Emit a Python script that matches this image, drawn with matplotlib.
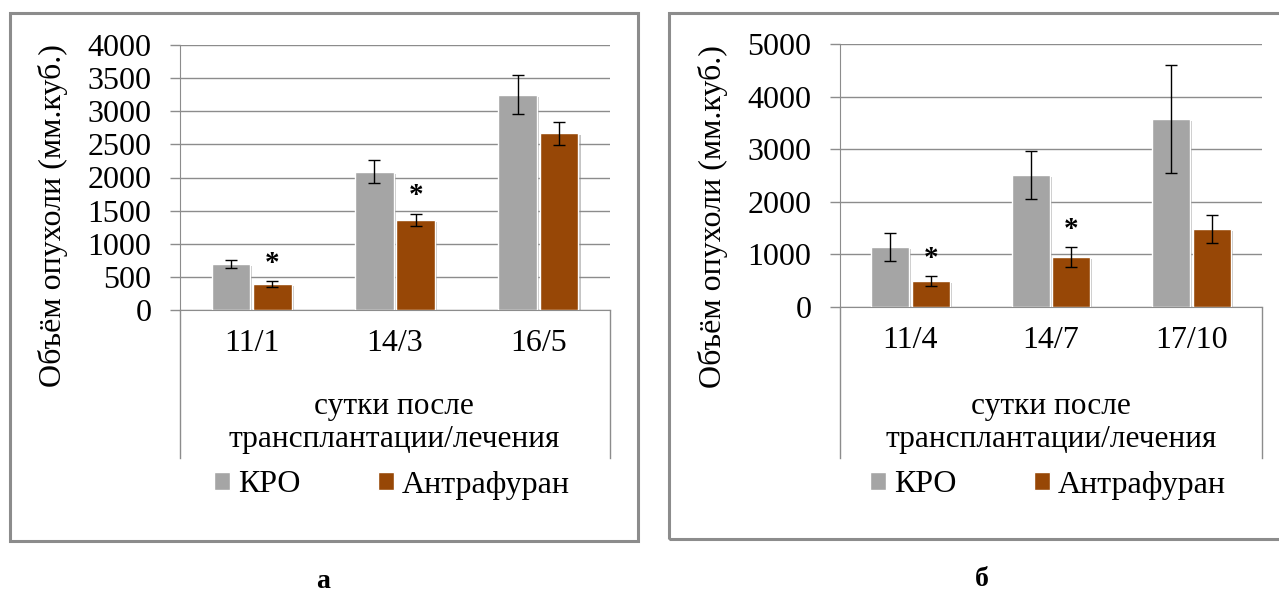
import matplotlib
matplotlib.use("Agg")
import matplotlib.pyplot as plt
import matplotlib.patheffects as pe
from matplotlib.patches import Patch, Rectangle

# ---- data ----
series_names = ["КРО", "Антрафуран"]

days_a = ["11/1", "14/3", "16/5"]
kro_a = [700, 2085, 3250]
kro_err_a = [60, 175, 290]
antr_a = [395, 1365, 2670]
antr_err_a = [45, 90, 175]
sig_a = [True, True, False]

days_b = ["11/4", "14/7", "17/10"]
kro_b = [1140, 2510, 3570]
kro_err_b = [270, 460, 1030]
antr_b = [495, 945, 1480]
antr_err_b = [100, 190, 265]
sig_b = [True, True, False]

ylabel = "Объём опухоли (мм.куб.)"
xlabel = "сутки после\nтрансплантации/лечения"

GREY = "#a5a5a5"
BROWN = "#974706"
LINE = "#8c8c8c"

plt.rcParams["font.family"] = ["Liberation Serif", "DejaVu Serif"]
FS = 23

W, H = 1279, 592
fig = plt.figure(figsize=(W / 100, H / 100), dpi=100)


def fx(x):
    return x / W


def fy(y):
    return 1 - y / H


def panel(box, ax_px, days, kro, kro_err, antr, antr_err, sig, ymax, step,
          label, label_xy, ylab_xy, title_xy, legend_xy):
    bx0, by0, bx1, by1 = box
    fig.patches.append(Rectangle((fx(bx0), fy(by1)), (bx1 - bx0) / W, (by1 - by0) / H,
                                 transform=fig.transFigure, fill=False,
                                 ec=LINE, lw=2.2))
    x0, y0, x1, y1 = ax_px
    ax = fig.add_axes([fx(x0), fy(y1), (x1 - x0) / W, (y1 - y0) / H])

    xs = range(len(days))
    w = 0.27
    shadow = [pe.SimplePatchShadow(offset=(1.5, -1.5), shadow_rgbFace="#808080", alpha=0.45),
              pe.Normal()]
    b1 = ax.bar([x - w / 2 - 0.01 for x in xs], kro, w, color=GREY,
                edgecolor="white", lw=1, zorder=3)
    b2 = ax.bar([x + w / 2 + 0.01 for x in xs], antr, w, color=BROWN,
                edgecolor="white", lw=1, zorder=3)
    for b in list(b1) + list(b2):
        b.set_path_effects(shadow)
    ax.errorbar([x - w / 2 - 0.01 for x in xs], kro, yerr=kro_err, fmt="none",
                ecolor="black", elinewidth=1, capsize=4.5, capthick=1, zorder=4)
    ax.errorbar([x + w / 2 + 0.01 for x in xs], antr, yerr=antr_err, fmt="none",
                ecolor="black", elinewidth=1, capsize=4.5, capthick=1, zorder=4)
    for x, v, e, s in zip(xs, antr, antr_err, sig):
        if s:
            ax.annotate("*", (x + w / 2 + 0.01, v + e), xytext=(0, 3),
                        textcoords="offset points", ha="center", va="bottom",
                        fontsize=21, fontweight="bold", zorder=5)

    ax.set_xlim(-0.5, len(days) - 0.5)
    ax.set_ylim(0, ymax)
    ax.set_yticks(range(0, ymax + 1, step))
    ax.yaxis.grid(True, color=LINE, lw=1)
    ax.set_axisbelow(True)
    ax.tick_params(axis="y", length=7.5, width=1, color=LINE, pad=13, labelsize=FS)
    ax.set_xticks(list(xs), days)
    ax.tick_params(axis="x", length=0, pad=14, labelsize=FS)
    for sp in ["top", "right"]:
        ax.spines[sp].set_visible(False)
    ax.spines["left"].set_color(LINE)
    ax.spines["bottom"].set_color(LINE)

    # long edge lines of the category axis
    ylow = -(458 - y1) / (y1 - y0)
    ax.plot([0, 0], [ylow, 0], transform=ax.transAxes, color=LINE, lw=1, clip_on=False)
    ax.plot([1, 1], [ylow, 0], transform=ax.transAxes, color=LINE, lw=1, clip_on=False)

    fig.text(fx(ylab_xy[0]), fy(ylab_xy[1]), ylabel, rotation=90, ha="center",
             va="center", fontsize=FS)
    fig.text(fx(title_xy[0]), fy(title_xy[1]), xlabel, ha="center", va="center",
             fontsize=22.6, linespacing=1.15)
    handles = [Patch(facecolor=GREY, edgecolor="white"), Patch(facecolor=BROWN, edgecolor="white")]
    fig.legend(handles, series_names, loc="center",
               bbox_to_anchor=(fx(legend_xy[0]), fy(legend_xy[1])), ncol=2,
               frameon=False, fontsize=FS, handlelength=0.52, handleheight=0.52,
               handletextpad=0.25, columnspacing=2.4, borderpad=0)
    fig.text(fx(label_xy[0]), fy(label_xy[1]), label, ha="center", va="center",
             fontsize=20, fontweight="bold")


panel((10, 13, 638, 541), (180, 45, 610, 310), days_a, kro_a, kro_err_a, antr_a,
      antr_err_a, sig_a, 4000, 500, "а", (323, 582), (53, 216), (394, 423), (392, 485))
panel((669, 13, 1283, 539), (840, 44, 1262, 307), days_b, kro_b, kro_err_b, antr_b,
      antr_err_b, sig_b, 5000, 1000, "б", (982, 580), (713, 217), (1051, 423), (1048, 485))

fig.savefig("out.png", dpi=100)
